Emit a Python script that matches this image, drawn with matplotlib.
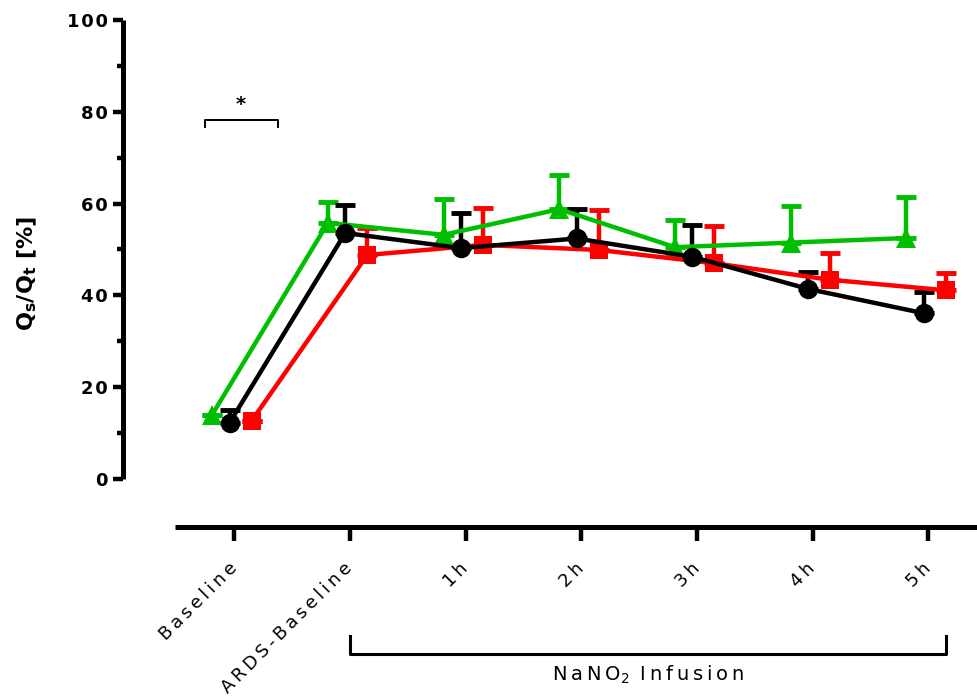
import matplotlib
matplotlib.use("Agg")
import matplotlib.pyplot as plt
import numpy as np

# Data
categories = ["Baseline", "ARDS-Baseline", "1h", "2h", "3h", "4h", "5h"]

green_mean = [14.0, 55.8, 53.2, 58.8, 50.5, 51.5, 52.5]
green_err = [0.0, 4.5, 7.8, 7.4, 6.0, 8.0, 9.0]

black_mean = [12.2, 53.6, 50.3, 52.4, 48.4, 41.4, 36.1]
black_err = [2.8, 6.0, 7.6, 6.5, 7.0, 3.6, 4.6]

red_mean = [12.6, 48.8, 51.0, 49.9, 47.0, 43.4, 41.1]
red_err = [0.0, 5.9, 8.0, 8.7, 8.2, 5.8, 3.8]

yticks = [0, 20, 40, 60, 80, 100]

GREEN = "#00BF00"
RED = "#FF0000"
BLACK = "#000000"
THIN = "\u2009"
HAIR = "\u200a"


def spaced(s, sep=THIN):
    """Prism-like letter tracking using thin spaces."""
    return sep.join(s)


fig = plt.figure(figsize=(9.77, 6.97), dpi=100)
ax = fig.add_axes([0.126, 0.244, 0.874, 0.727])

x = np.arange(len(categories))

series = [
    (green_mean, green_err, GREEN, "^", -0.19, 15),
    (red_mean, red_err, RED, "s", 0.15, 13),
    (black_mean, black_err, BLACK, "o", -0.04, 14),
]

for mean, err, color, marker, off, ms in series:
    xs = x + off
    lower = np.zeros(len(err))
    ax.errorbar(xs, mean, yerr=[lower, err], fmt="none", ecolor=color,
                elinewidth=3.2, capsize=7, capthick=3.5, zorder=2)
    ax.plot(xs, mean, color=color, lw=3.2, marker=marker, markersize=ms,
            markeredgewidth=0, zorder=3, clip_on=False)

ax.set_xlim(-0.96, 6.42)
ax.set_ylim(-10.5, 100)

# Prism style detached axes
ax.spines["top"].set_visible(False)
ax.spines["right"].set_visible(False)
ax.spines["left"].set_bounds(0, 100)
ax.spines["bottom"].set_bounds(-0.51, 6.42)
for s in ("left", "bottom"):
    ax.spines[s].set_linewidth(3.6)
    ax.spines[s].set_capstyle("butt")

ax.set_yticks(yticks)
ax.set_yticks([10, 30, 50, 70, 90], minor=True)
ax.set_yticklabels([spaced(str(v), HAIR) for v in yticks],
                   fontsize=13, fontweight="bold")
ax.tick_params(axis="y", which="major", length=7, width=3.2, pad=4)
ax.tick_params(axis="y", which="minor", length=4, width=3.2)

ax.set_xticks(x)
ax.set_xticklabels([spaced(c) for c in categories], rotation=45, ha="right",
                   va="center", rotation_mode="anchor", fontsize=13)
ax.tick_params(axis="x", which="major", length=10, width=3.2, pad=18)

ax.set_ylabel(r"Q$_\mathbf{s}$/Q$_\mathbf{t}$ [%]", fontsize=16,
              fontweight="bold", labelpad=20)

# significance bracket above Baseline
ax.plot([-0.25, -0.25, 0.38, 0.38], [76.8, 78.3, 78.3, 76.8],
        color=BLACK, lw=1.4, clip_on=False)
ax.text(0.06, 79.5, "*", ha="center", va="bottom", fontsize=14,
        fontweight="bold")

# NaNO2 infusion bracket below the axis
ax.plot([1.0, 1.0, 6.15, 6.15], [-34.2, -38.3, -38.3, -34.2],
        color=BLACK, lw=2.2, clip_on=False)
ax.text(3.58, -42.8, spaced("NaNO") + "$_2$" + THIN + " " + spaced("Infusion"),
        ha="center", va="center", fontsize=14, clip_on=False)

fig.savefig("out.png", dpi=100, facecolor="white")
